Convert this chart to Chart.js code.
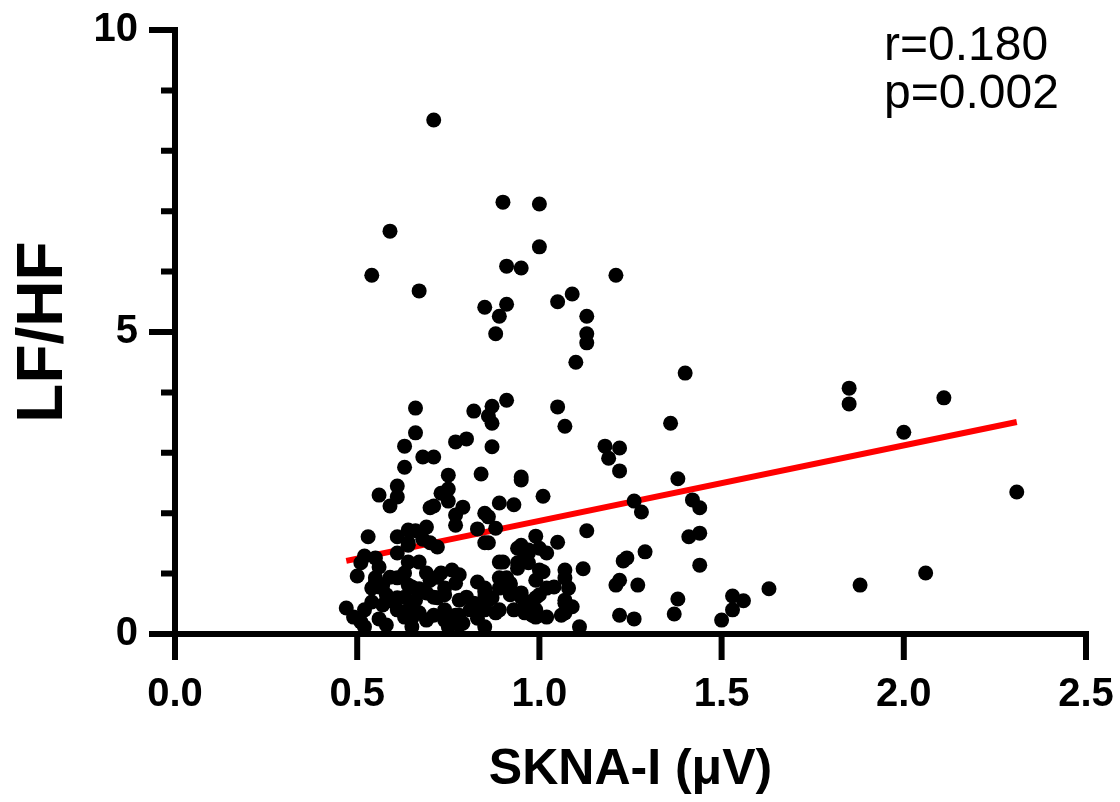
<!DOCTYPE html>
<html>
<head>
<meta charset="utf-8">
<script src="https://cdn.jsdelivr.net/npm/chart.js@4.4.1/dist/chart.umd.min.js"></script>
<style>
  html, body { margin: 0; padding: 0; background: #fff; }
</style>
</head>
<body>
<canvas id="skNaChart" width="1120" height="802"></canvas>
<script>
// SKNA-I (uV) per subject
const sknaValues = [
    0.71,0.59,0.90,1.00,0.54,1.00,0.91,0.95,0.67,1.21,
    0.85,0.91,1.05,1.09,0.89,1.13,0.88,1.13,1.13,1.10,
    1.40,1.85,1.85,2.11,2.31,2.00,1.88,2.06,1.63,1.56,
    1.53,1.53,1.50,1.38,1.37,1.36,1.38,1.41,1.44,1.44,
    1.42,1.44,
    1.05,1.07,1.18,1.22,1.19,1.22,0.95,1.01,1.26,1.28,
    1.13,0.99,1.05,1.29,1.24,1.23,1.12,1.22,1.21,1.27,
    1.07,1.08,1.04,1.01,0.99,1.07,1.09,1.22,1.26,1.07,
    1.11,1.02,0.98,0.96,0.95,
    0.66,0.82,0.87,0.91,0.86,0.87,0.66,0.63,0.77,0.80,
    0.87,0.68,0.71,0.63,0.84,0.75,0.95,0.61,0.56,0.61,
    0.59,0.73,0.75,0.75,0.89,0.93,0.70,0.71,0.79,0.77,
    0.77,0.85,0.86,0.83,0.88,0.69,0.64,0.66,0.53,0.61,
    0.64,0.68,0.70,0.72,0.85,0.86,0.61,0.52,0.55,0.64,
    0.67,0.51,0.56,0.50,0.89,0.90,0.94,0.96,0.69,0.73,
    0.76,0.78,0.94,0.59,0.61,0.55,0.56,0.54,0.64,0.67,
    0.70,0.74,0.77,0.83,0.85,0.89,0.91,0.92,0.89,0.92,
    0.95,0.69,0.63,0.61,0.60,0.66,0.72,0.78,0.80,0.82,
    0.85,0.87,0.54,0.52,0.47,0.49,0.51,0.52,0.56,0.58,
    0.61,0.63,0.64,0.65,0.65,0.67,0.69,0.71,0.74,0.74,
    0.75,0.77,0.79,0.81,0.83,0.85,0.85,0.88,0.89,0.93,0.96,
    0.95,0.97,0.94,0.97,1.00,1.02,0.96,0.97,1.00,1.07,
    0.92,1.02,0.85,0.92,1.00,0.99,0.86,0.97,1.07,0.83,
    0.99,0.78,0.99,1.06,0.64,0.55,0.63,0.72,0.57,0.65,
    0.58,0.71,0.74,0.57,0.78
];

// LF/HF ratio, same order
const lfhfValues = [
    8.51,6.67,7.15,7.12,5.94,6.41,6.09,6.06,5.68,5.94,
    5.41,5.46,5.50,5.63,5.26,5.26,4.97,4.97,4.82,4.50,
    4.32,4.07,3.81,3.91,2.35,3.34,0.81,1.01,0.75,0.55,
    0.63,0.40,0.23,0.58,0.33,3.49,2.57,1.61,1.14,2.09,
    2.22,1.67,
    3.76,3.44,3.11,3.08,2.91,2.70,2.60,2.28,2.20,2.02,
    1.71,1.62,1.52,1.36,1.26,1.21,1.08,0.89,0.81,0.81,
    1.06,0.76,0.78,1.03,0.89,0.51,0.45,0.31,0.25,0.35,
    0.12,0.28,0.31,0.45,0.61,
    3.74,3.69,3.77,3.87,3.61,3.49,3.33,3.11,3.18,3.23,
    3.10,2.93,2.93,2.76,2.65,2.63,2.55,2.45,2.30,2.27,
    2.12,2.33,2.40,2.20,2.17,2.14,2.09,2.12,2.10,1.97,
    1.80,2.00,1.94,1.74,1.75,1.77,1.72,1.71,1.61,1.61,
    1.51,1.57,1.51,1.44,1.51,1.51,1.34,1.29,1.26,1.19,
    1.19,1.18,1.11,0.96,1.19,1.19,1.18,1.28,1.01,1.01,
    1.06,0.98,1.09,0.94,0.93,0.86,0.78,0.76,0.81,0.75,
    0.89,0.76,0.84,0.86,0.76,0.93,0.93,0.84,0.76,0.68,
    0.68,0.68,0.61,0.60,0.53,0.56,0.60,0.56,0.61,0.51,
    0.61,0.60,0.53,0.40,0.43,0.28,0.20,0.12,0.25,0.15,
    0.40,0.28,0.40,0.12,0.26,0.35,0.23,0.31,0.23,0.40,
    0.12,0.31,0.18,0.40,0.26,0.12,0.40,0.35,0.40,0.40,0.35,
    1.47,1.34,1.42,1.39,1.42,1.34,1.27,1.18,1.06,0.93,
    0.81,0.76,0.70,0.65,0.65,0.60,0.56,0.53,0.56,0.45,
    0.40,0.31,0.28,0.31,1.47,0.93,1.01,0.94,0.81,0.78,
    0.65,0.61,0.65,0.48,0.15
];

// regression line ends
const fitX = [0.47, 2.31];
const fitY = [1.21, 3.51];

const xTicks = [0, 0.5, 1.0, 1.5, 2.0, 2.5];
const yTicks = [0, 5, 10];
const yMinorTicks = [1, 2, 3, 4, 6, 7, 8, 9];
const statsLines = ["r=0.180", "p=0.002"];

const fontFamily = "'Liberation Sans', Arial, Helvetica, sans-serif";

// fixed box for each axis, no extra room for overhanging labels
const pinScale = (s, key, size) => {
    s[key] = size;
    s.paddingTop = 0;
    s.paddingBottom = 0;
    s.paddingLeft = 0;
    s.paddingRight = 0;
};

// Prism-style axes: thick lines, long major ticks, short minor ticks
const prismAxes = {
    id: "prismAxes",
    afterDatasetsDraw(chart) {
        const { ctx, scales: { x, y } } = chart;
        const x0 = x.getPixelForValue(0);
        const y0 = y.getPixelForValue(0);
        const yTop = y.getPixelForValue(10);
        const xEnd = x.getPixelForValue(2.5);
        const lw = 6;

        ctx.save();
        ctx.strokeStyle = "#000";
        ctx.lineWidth = lw;
        ctx.lineCap = "butt";

        ctx.beginPath();
        ctx.moveTo(x0, yTop - lw / 2);
        ctx.lineTo(x0, y0 + lw / 2);
        ctx.moveTo(x0 - lw / 2, y0);
        ctx.lineTo(xEnd + lw / 2, y0);

        yTicks.forEach(v => {
            const p = y.getPixelForValue(v);
            ctx.moveTo(x0 - 26, p);
            ctx.lineTo(x0, p);
        });
        yMinorTicks.forEach(v => {
            const p = y.getPixelForValue(v);
            ctx.moveTo(x0 - 14, p);
            ctx.lineTo(x0, p);
        });
        xTicks.forEach(v => {
            const p = x.getPixelForValue(v);
            ctx.moveTo(p, y0);
            ctx.lineTo(p, y0 + 26);
        });
        ctx.stroke();

        ctx.fillStyle = "#000";
        ctx.font = "48px " + fontFamily;
        ctx.textAlign = "left";
        ctx.textBaseline = "alphabetic";
        ctx.fillText(statsLines[0], 884, 60);
        ctx.fillText(statsLines[1], 884, 108);
        ctx.restore();
    }
};

const points = sknaValues.map((v, i) => ({ x: v, y: lfhfValues[i] }));
const fitLine = fitX.map((v, i) => ({ x: v, y: fitY[i] }));

const ctx = document.getElementById("skNaChart").getContext("2d");
new Chart(ctx, {
    type: "scatter",
    data: {
        datasets: [
            {
                data: points,
                backgroundColor: "#000",
                borderWidth: 0,
                pointRadius: 7.5,
                order: 0
            },
            {
                data: fitLine,
                showLine: true,
                borderColor: "#ff0000",
                borderWidth: 6,
                pointRadius: 0,
                order: 1
            }
        ]
    },
    options: {
        responsive: false,
        animation: false,
        layout: { padding: { top: 30, right: 34, left: 0, bottom: 0 } },
        plugins: {
            legend: { display: false },
            tooltip: { enabled: false }
        },
        scales: {
            x: {
                type: "linear",
                min: 0,
                max: 2.5,
                afterBuildTicks: s => { s.ticks = xTicks.map(v => ({ value: v })); },
                afterFit: s => pinScale(s, "height", 168),
                grid: { display: false },
                border: { display: false },
                ticks: {
                    color: "#000",
                    padding: 29,
                    maxRotation: 0,
                    autoSkip: false,
                    font: { family: fontFamily, size: 40, weight: "bold" },
                    callback: v => Number(v).toFixed(1)
                },
                title: {
                    display: true,
                    text: "SKNA-I (μV)",
                    color: "#000",
                    font: { family: fontFamily, size: 50, weight: "bold" },
                    padding: { top: 0, bottom: 2 }
                }
            },
            y: {
                type: "linear",
                min: 0,
                max: 10,
                afterBuildTicks: s => { s.ticks = yTicks.map(v => ({ value: v })); },
                afterFit: s => pinScale(s, "width", 175),
                grid: { display: false },
                border: { display: false },
                ticks: {
                    color: "#000",
                    padding: 29,
                    font: { family: fontFamily, size: 40, weight: "bold" }
                },
                title: {
                    display: true,
                    text: "LF/HF",
                    color: "#000",
                    font: { family: fontFamily, size: 64, weight: "bold" },
                    padding: { top: 6, bottom: 0 }
                }
            }
        }
    },
    plugins: [prismAxes]
});
</script>
</body>
</html>
